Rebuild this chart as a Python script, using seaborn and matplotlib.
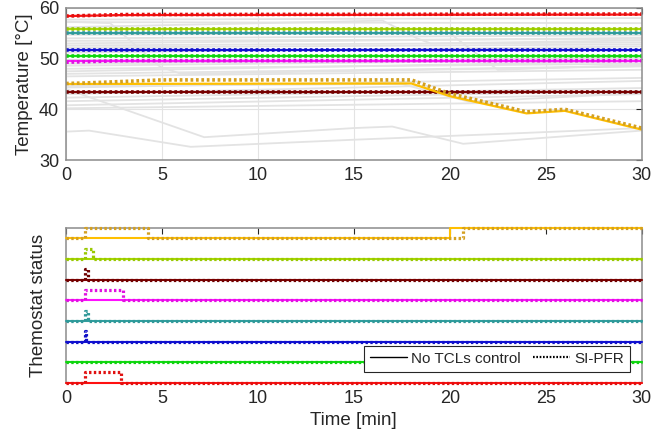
import numpy as np
import pandas as pd
import matplotlib
matplotlib.use('Agg')
import matplotlib.pyplot as plt
import seaborn as sns
from matplotlib.lines import Line2D

sns.set_theme(style='white')
plt.rcParams['font.family'] = ['Liberation Sans', 'DejaVu Sans']

# ─────────────────────────────────────────────
# DATA
# ─────────────────────────────────────────────
tcl_names = ['red', 'green', 'blue', 'teal', 'magenta', 'darkred', 'yellowgreen', 'orange']
tcl_colors = ['#ff1010', '#10e010', '#1010d8', '#30a0a0', '#ff10ff', '#800000', '#a8d800', '#ffbf00']
dot_colors = ['#e01010', '#10d010', '#1010c8', '#309898', '#e010e0', '#700000', '#98c800', '#d4a020']

# temperature trajectories: no TCLs control (solid)
temp_nc_t = {
    'red': [0, 3, 30], 'green': [0, 30], 'blue': [0, 30], 'teal': [0, 30],
    'magenta': [0, 30], 'darkred': [0, 30], 'yellowgreen': [0, 30],
    'orange': [0, 18, 20, 24, 26, 30],
}
temp_nc_v = {
    'red': [58.4, 58.6, 58.7], 'green': [50.5, 50.5], 'blue': [51.7, 51.7],
    'teal': [55.0, 55.0], 'magenta': [49.5, 49.5], 'darkred': [43.4, 43.4],
    'yellowgreen': [55.9, 55.9], 'orange': [45.0, 45.1, 42.6, 39.2, 39.7, 36.0],
}
# temperature trajectories: SI-PFR (dotted)
temp_pfr_t = {
    'red': [0, 3, 30], 'green': [0, 30], 'blue': [0, 30], 'teal': [0, 30],
    'magenta': [0, 3, 30], 'darkred': [0, 30], 'yellowgreen': [0, 30],
    'orange': [0, 1, 5, 18, 20, 24, 26, 30],
}
temp_pfr_v = {
    'red': [58.4, 58.7, 58.8], 'green': [50.5, 50.5], 'blue': [51.7, 51.7],
    'teal': [55.0, 55.0], 'magenta': [49.3, 49.6, 49.6], 'darkred': [43.4, 43.4],
    'yellowgreen': [55.9, 55.9], 'orange': [45.1, 45.2, 45.8, 45.8, 43.1, 39.5, 40.0, 36.3],
}

# other TCLs (grey background)
grey_t = [
    [0, 30], [0, 30], [0, 2.3, 4.9, 6, 30], [0, 30], [0, 30], [0, 30], [0, 30],
    [0, 30], [0, 30], [0, 30], [0, 30], [0, 30], [0, 30], [0, 30], [0, 30],
    [0, 30], [0, 30], [0, 30], [0, 30],
    [0, 7.2, 15, 17, 20.7, 30],
    [0, 1.2, 6.5, 15, 23, 30],
    [0, 16.5, 18.3, 19, 30],
    [0, 20, 22.5, 30],
    [0, 17.5, 21, 30],
    [0, 30], [0, 30],
]
grey_v = [
    [57.7, 58.0], [57.2, 57.0], [57.3, 57.0, 48.4, 47.0, 48.5], [54.0, 54.6],
    [53.5, 53.9], [53.0, 54.1], [52.6, 53.2], [49.0, 50.2], [48.6, 49.8],
    [48.0, 49.0], [47.5, 49.5], [47.0, 48.5], [46.5, 47.8], [44.3, 46.2],
    [43.0, 45.6], [42.3, 44.2], [41.6, 43.6], [40.8, 43.0], [40.2, 41.6],
    [44.0, 34.5, 36.3, 36.6, 33.2, 35.8],
    [35.6, 35.8, 32.6, 34.0, 35.2, 36.3],
    [56.2, 57.5, 54.0, 53.0, 53.6],
    [54.7, 55.0, 47.8, 48.8],
    [44.6, 45.0, 41.5, 43.2],
    [52.2, 52.8], [51.2, 52.4],
]

# thermostat status (on/off switching instants)
stat_nc_t = {n: [0, 30] for n in tcl_names}
stat_nc_s = {n: [0, 0] for n in tcl_names}
stat_nc_t['orange'] = [0, 20.0, 30]
stat_nc_s['orange'] = [0, 1, 1]

stat_pfr_t = {
    'red': [0, 1.0, 2.87, 30], 'green': [0, 30], 'blue': [0, 1.0, 1.05, 30],
    'teal': [0, 1.0, 1.15, 30], 'magenta': [0, 1.0, 2.99, 30],
    'darkred': [0, 1.0, 1.15, 30], 'yellowgreen': [0, 1.0, 1.38, 30],
    'orange': [0, 1.0, 4.29, 20.7, 30],
}
stat_pfr_s = {
    'red': [0, 1, 0, 0], 'green': [0, 0], 'blue': [0, 1, 0, 0],
    'teal': [0, 1, 0, 0], 'magenta': [0, 1, 0, 0],
    'darkred': [0, 1, 0, 0], 'yellowgreen': [0, 1, 0, 0],
    'orange': [0, 1, 0, 1, 1],
}
stat_offset = 2  # vertical spacing between TCLs

xticks = [0, 5, 10, 15, 20, 25, 30]
DOT = (0, (0.75, 0.75))

# ─────────────────────────────────────────────
# FIGURE
# ─────────────────────────────────────────────
fig = plt.figure(figsize=(6.67, 4.42), dpi=100)
ax1 = fig.add_axes([0.099, 0.638, 0.863, 0.344])
ax2 = fig.add_axes([0.099, 0.134, 0.863, 0.350])

# top: temperatures
for t, v in zip(grey_t, grey_v):
    sns.lineplot(x=t, y=v, ax=ax1, color='#e3e3e3', lw=1.3, estimator=None, sort=False)
for i, n in enumerate(tcl_names):
    sns.lineplot(x=temp_nc_t[n], y=temp_nc_v[n], ax=ax1, color=tcl_colors[i],
                 lw=1.6, estimator=None, sort=False)
    sns.lineplot(x=temp_pfr_t[n], y=temp_pfr_v[n], ax=ax1, color=dot_colors[i],
                 lw=2.6, linestyle=DOT, estimator=None, sort=False)

ax1.set_xlim(0, 30)
ax1.set_ylim(30, 60)
ax1.set_xticks(xticks)
ax1.set_yticks([30, 40, 50, 60])
ax1.grid(True, color='#e3e3e3', lw=0.8)
ax1.set_ylabel('Temperature [°C]', fontsize=13.5, color='#262626', labelpad=4)

# bottom: thermostat status
for i, n in enumerate(tcl_names):
    off = i * stat_offset
    sns.lineplot(x=stat_nc_t[n], y=[s + off for s in stat_nc_s[n]], ax=ax2,
                 color=tcl_colors[i], lw=1.5, drawstyle='steps-post',
                 estimator=None, sort=False, clip_on=False, zorder=3)
    sns.lineplot(x=stat_pfr_t[n], y=[s + off for s in stat_pfr_s[n]], ax=ax2,
                 color=dot_colors[i], lw=2.3, linestyle=DOT, drawstyle='steps-post',
                 estimator=None, sort=False, clip_on=False, zorder=3)

ax2.set_xlim(0, 30)
ax2.set_ylim(0, 15)
ax2.set_xticks(xticks)
ax2.set_yticks([])
ax2.set_ylabel('Themostat status', fontsize=13.5, color='#262626', labelpad=14)
ax2.set_xlabel('Time [min]', fontsize=13.5, color='#262626', labelpad=4)

handles = [Line2D([], [], color='black', lw=1.0),
           Line2D([], [], color='black', lw=1.6, linestyle=DOT)]
leg = ax2.legend(handles, ['No TCLs control', 'SI-PFR'], ncol=2, loc='lower right',
                 bbox_to_anchor=(0.98, 0.07), fontsize=11, frameon=True, fancybox=False,
                 framealpha=1, edgecolor='#262626', handlelength=2.4, columnspacing=0.8,
                 borderpad=0.4, handletextpad=0.3, borderaxespad=0)
leg.get_frame().set_linewidth(0.8)
leg.set_zorder(5)

for ax in (ax1, ax2):
    ax.tick_params(axis='both', direction='in', length=4, width=0.8, colors='#262626',
                   labelsize=13, top=True, right=(ax is ax1), pad=5)
    for sp in ax.spines.values():
        sp.set_color('#8c8c8c')
        sp.set_linewidth(1.1)

plt.savefig('out.png', dpi=100)
plt.close()
